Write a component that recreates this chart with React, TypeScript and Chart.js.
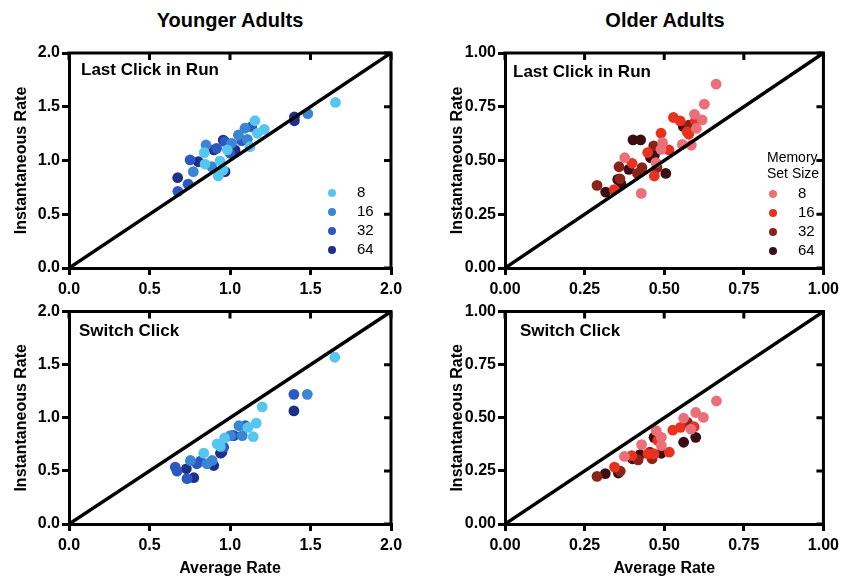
import React, { useEffect, useRef } from 'react';
import { Chart, registerables } from 'chart.js';
Chart.register(...registerables);

type Pt = [number, number];

const memorySizes = ['8', '16', '32', '64'];
const blueColors = ['#55c6f0', '#3a86d3', '#2c58c2', '#1d2f88'];
const redColors = ['#ea6f78', '#e8321f', '#8c2319', '#3b0d15'];

const youngTicks = [0, 0.5, 1.0, 1.5, 2.0];
const olderTicks = [0, 0.25, 0.5, 0.75, 1.0];

// Younger adults – Last Click in Run
const youngLast8: Pt[] = [[1.655, 1.54], [1.155, 1.37], [1.213, 1.29], [1.17, 1.253], [1.124, 1.128], [0.983, 1.098], [0.84, 1.073], [0.938, 0.995], [0.845, 0.967], [0.927, 0.856], [0.957, 0.91]];
const youngLast16: Pt[] = [[1.483, 1.436], [1.093, 1.3], [1.052, 1.237], [1.108, 1.197], [0.851, 1.144], [0.886, 0.942], [1.01, 1.16], [0.772, 0.896]];
const youngLast32: Pt[] = [[1.135, 1.315], [1.073, 1.184], [0.917, 1.113], [1.0, 1.067], [0.752, 1.005], [0.969, 1.175], [0.676, 0.713], [0.74, 0.78]];
const youngLast64: Pt[] = [[1.4, 1.405], [1.4, 1.37], [0.958, 1.19], [0.9, 1.098], [0.803, 0.989], [0.969, 0.896], [1.031, 1.098], [0.675, 0.84]];

// Older adults – Last Click in Run
const olderLast8: Pt[] = [[0.663, 0.855], [0.626, 0.762], [0.619, 0.689], [0.595, 0.715], [0.601, 0.649], [0.585, 0.571], [0.557, 0.575], [0.495, 0.583], [0.49, 0.552], [0.376, 0.513], [0.428, 0.347], [0.474, 0.49]];
const olderLast16: Pt[] = [[0.529, 0.7], [0.55, 0.684], [0.598, 0.684], [0.572, 0.633], [0.577, 0.622], [0.49, 0.627], [0.515, 0.549], [0.448, 0.537], [0.399, 0.487], [0.469, 0.428], [0.343, 0.365]];
const olderLast32: Pt[] = [[0.577, 0.664], [0.467, 0.568], [0.358, 0.471], [0.43, 0.467], [0.416, 0.44], [0.289, 0.384], [0.477, 0.467], [0.361, 0.415]];
const olderLast64: Pt[] = [[0.56, 0.658], [0.402, 0.596], [0.426, 0.596], [0.457, 0.513], [0.469, 0.524], [0.389, 0.459], [0.354, 0.412], [0.364, 0.393], [0.316, 0.353], [0.505, 0.44]];

// Younger adults – Switch Click
const youngSwitch8: Pt[] = [[1.651, 1.57], [1.2, 1.103], [1.163, 0.95], [1.144, 0.822], [1.111, 0.909], [0.966, 0.81], [0.92, 0.754], [0.837, 0.667], [0.94, 0.73]];
const youngSwitch16: Pt[] = [[1.48, 1.221], [1.055, 0.925], [1.076, 0.832], [0.889, 0.598], [0.857, 0.567], [0.754, 0.598], [1.002, 0.832]];
const youngSwitch32: Pt[] = [[1.397, 1.221], [1.014, 0.832], [0.961, 0.723], [0.66, 0.536], [0.671, 0.498], [0.733, 0.427], [0.816, 0.592], [1.096, 0.925], [0.794, 0.567]];
const youngSwitch64: Pt[] = [[1.397, 1.065], [0.775, 0.436], [0.899, 0.551], [0.941, 0.667], [0.729, 0.52], [1.023, 0.832], [0.95, 0.676]];

// Older adults – Switch Click
const olderSwitch8: Pt[] = [[0.664, 0.579], [0.623, 0.502], [0.599, 0.525], [0.561, 0.498], [0.584, 0.447], [0.491, 0.408], [0.475, 0.439], [0.491, 0.369], [0.429, 0.374], [0.375, 0.318]];
const olderSwitch16: Pt[] = [[0.594, 0.458], [0.551, 0.455], [0.527, 0.442], [0.516, 0.338], [0.468, 0.33], [0.449, 0.33], [0.398, 0.322], [0.344, 0.268], [0.48, 0.393]];
const olderSwitch32: Pt[] = [[0.289, 0.224], [0.418, 0.302], [0.462, 0.307], [0.362, 0.249], [0.573, 0.478], [0.455, 0.338]];
const olderSwitch64: Pt[] = [[0.315, 0.237], [0.356, 0.24], [0.599, 0.408], [0.561, 0.385], [0.468, 0.408], [0.491, 0.333], [0.424, 0.327], [0.4, 0.307]];

const FONT = '"Liberation Sans", Arial, Helvetica, sans-serif';

const panelDecor = {
  id: 'panelDecor',
  afterDatasetsDraw(chart: any, _args: any, opts: any) {
    const { ctx, chartArea: a, scales } = chart;
    const xs = scales.x;
    const ys = scales.y;
    ctx.save();
    ctx.strokeStyle = '#000';
    ctx.lineWidth = 3;
    ctx.beginPath();
    ctx.moveTo(a.left - 1.5, a.top);
    ctx.lineTo(a.right + 1.5, a.top);
    ctx.moveTo(a.right, a.top);
    ctx.lineTo(a.right, a.bottom + 1.5);
    ctx.stroke();
    ctx.beginPath();
    xs.ticks.forEach((t: any) => {
      const px = xs.getPixelForValue(t.value);
      ctx.moveTo(px, a.top);
      ctx.lineTo(px, a.top + 7);
    });
    ys.ticks.forEach((t: any) => {
      const py = ys.getPixelForValue(t.value);
      ctx.moveTo(a.right, py);
      ctx.lineTo(a.right - 7, py);
    });
    ctx.stroke();

    // panel label
    ctx.fillStyle = '#000';
    ctx.font = `bold 17px ${FONT}`;
    ctx.textAlign = 'left';
    ctx.textBaseline = 'middle';
    ctx.fillText(opts.title, a.left + opts.titleDx, a.top + opts.titleDy);

    // legend
    const lg = opts.legend;
    if (lg && !lg.hidden) {
      if (lg.header) {
        ctx.font = `14px ${FONT}`;
        lg.header.forEach((h: string, i: number) => {
          ctx.fillText(h, a.left + lg.headerDx, a.top + lg.headerDy + i * 16);
        });
      }
      ctx.font = `15px ${FONT}`;
      let k = 0;
      chart.data.datasets.forEach((ds: any) => {
        if (ds.showLine) return;
        const cy = a.top + lg.dy + k * 19;
        ctx.fillStyle = ds.backgroundColor;
        ctx.beginPath();
        ctx.arc(a.left + lg.dx, cy, 4, 0, Math.PI * 2);
        ctx.fill();
        ctx.fillStyle = '#000';
        ctx.fillText(ds.label, a.left + lg.labelDx, cy);
        k++;
      });
    }
    ctx.restore();
  },
};

interface PanelProps {
  left: number;
  top: number;
  width: number;
  height: number;
  yAxisWidth: number;
  padTop: number;
  padRight: number;
  xAxisHeight: number;
  max: number;
  ticks: number[];
  decimals: number;
  groups: Pt[][];
  colors: string[];
  title: string;
  titleDx: number;
  titleDy: number;
  xTitle: boolean;
  yTitlePad: number;
  legend: any;
}

function Panel(p: PanelProps) {
  const ref = useRef<HTMLCanvasElement>(null);
  useEffect(() => {
    if (!ref.current) return;
    const datasets: any[] = [
      {
        label: 'identity',
        data: [{ x: 0, y: 0 }, { x: p.max, y: p.max }],
        showLine: true,
        borderColor: '#000',
        borderWidth: 3.5,
        pointRadius: 0,
        order: 0,
      },
      ...p.groups.map((g, i) => ({
        label: memorySizes[i],
        data: g.map(([x, y]) => ({ x, y })),
        backgroundColor: p.colors[i],
        borderWidth: 0,
        pointRadius: 5.4,
        pointHoverRadius: 5.4,
        order: 1,
      })),
    ];
    const tickFont = { family: FONT, size: 16, weight: 'bold' as const };
    const titleFont = { family: FONT, size: 16, weight: 'bold' as const };
    const chart = new Chart(ref.current, {
      type: 'scatter',
      data: { datasets },
      plugins: [panelDecor as any],
      options: {
        animation: false,
        responsive: false,
        events: [],
        layout: { padding: { left: 0, top: p.padTop, right: p.padRight, bottom: 0 } },
        plugins: {
          legend: { display: false },
          tooltip: { enabled: false },
          panelDecor: { title: p.title, titleDx: p.titleDx, titleDy: p.titleDy, legend: p.legend },
        } as any,
        scales: {
          x: {
            type: 'linear',
            min: 0,
            max: p.max,
            afterFit: (s: any) => { s.height = p.xAxisHeight; },
            afterBuildTicks: (s: any) => { s.ticks = p.ticks.map((v) => ({ value: v })); },
            ticks: {
              color: '#000',
              font: tickFont,
              padding: 5,
              maxRotation: 0,
              autoSkip: false,
              callback: (v: any) => Number(v).toFixed(p.decimals),
            },
            grid: { drawOnChartArea: false, drawTicks: true, tickLength: 7, lineWidth: 3, color: '#000' },
            border: { display: true, color: '#000', width: 3 },
            title: {
              display: p.xTitle,
              text: 'Average Rate',
              color: '#000',
              font: titleFont,
              padding: { top: 0, bottom: 2 },
            },
          },
          y: {
            type: 'linear',
            min: 0,
            max: p.max,
            afterFit: (s: any) => { s.width = p.yAxisWidth; },
            afterBuildTicks: (s: any) => { s.ticks = p.ticks.map((v) => ({ value: v })); },
            ticks: {
              color: '#000',
              font: tickFont,
              padding: 2,
              autoSkip: false,
              callback: (v: any) => Number(v).toFixed(p.decimals),
            },
            grid: { drawOnChartArea: false, drawTicks: true, tickLength: 7, lineWidth: 3, color: '#000' },
            border: { display: true, color: '#000', width: 3 },
            title: {
              display: true,
              text: 'Instantaneous Rate',
              color: '#000',
              font: titleFont,
              padding: { top: p.yTitlePad, bottom: 0 },
            },
          },
        },
      } as any,
    });
    return () => chart.destroy();
  }, []);
  return (
    <canvas
      ref={ref}
      width={p.width}
      height={p.height}
      style={{ position: 'absolute', left: p.left, top: p.top, width: p.width, height: p.height, display: 'block' }}
    />
  );
}

const headingStyle: React.CSSProperties = {
  position: 'absolute',
  top: 8,
  width: 220,
  textAlign: 'center',
  fontFamily: FONT,
  fontWeight: 'bold',
  fontSize: 20,
  lineHeight: '24px',
  color: '#000',
};

export default function App() {
  const youngLegend = { dx: 263, dy: 140, labelDx: 288 };
  const olderLegend = { dx: 268, dy: 141, labelDx: 293, header: ['Memory', 'Set Size'], headerDx: 262, headerDy: 105 };
  return (
    <div style={{ position: 'absolute', left: 0, top: 0, width: 844, height: 580, background: '#fff', overflow: 'hidden' }}>
      <div style={{ ...headingStyle, left: 120 }}>Younger Adults</div>
      <div style={{ ...headingStyle, left: 555 }}>Older Adults</div>
      <Panel
        left={0} top={40} width={422} height={260}
        yAxisWidth={69} padTop={13} padRight={31} xAxisHeight={32}
        max={2} ticks={youngTicks} decimals={1}
        groups={[youngLast8, youngLast16, youngLast32, youngLast64]} colors={blueColors}
        title="Last Click in Run" titleDx={12} titleDy={17}
        xTitle={false} yTitlePad={12} legend={youngLegend}
      />
      <Panel
        left={422} top={40} width={422} height={260}
        yAxisWidth={83} padTop={13} padRight={16} xAxisHeight={32}
        max={1} ticks={olderTicks} decimals={2}
        groups={[olderLast8, olderLast16, olderLast32, olderLast64]} colors={redColors}
        title="Last Click in Run" titleDx={8} titleDy={19}
        xTitle={false} yTitlePad={26} legend={olderLegend}
      />
      <Panel
        left={0} top={300} width={422} height={280}
        yAxisWidth={69} padTop={10} padRight={31} xAxisHeight={56}
        max={2} ticks={youngTicks} decimals={1}
        groups={[youngSwitch8, youngSwitch16, youngSwitch32, youngSwitch64]} colors={blueColors}
        title="Switch Click" titleDx={10} titleDy={20}
        xTitle={true} yTitlePad={12} legend={{ ...youngLegend, hidden: true }}
      />
      <Panel
        left={422} top={300} width={422} height={280}
        yAxisWidth={83} padTop={10} padRight={16} xAxisHeight={56}
        max={1} ticks={olderTicks} decimals={2}
        groups={[olderSwitch8, olderSwitch16, olderSwitch32, olderSwitch64]} colors={redColors}
        title="Switch Click" titleDx={15} titleDy={20}
        xTitle={true} yTitlePad={26} legend={{ ...olderLegend, hidden: true }}
      />
    </div>
  );
}
